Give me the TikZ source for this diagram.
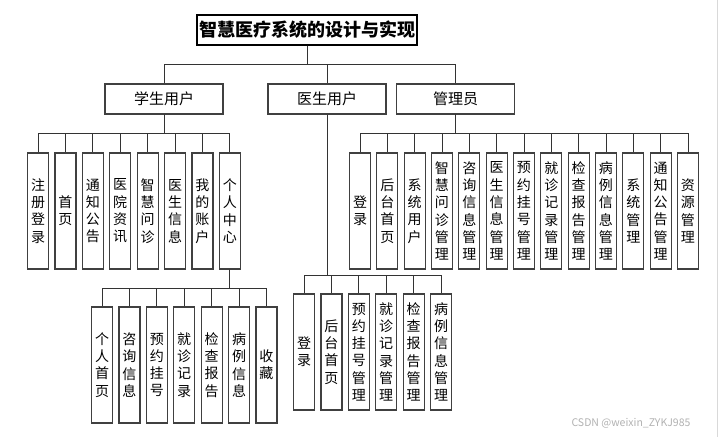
\documentclass[tikz,border=0pt]{standalone}
\usepackage{fontspec}
\newfontfamily\cjk{Noto Sans CJK SC}
\begin{document}
\begin{tikzpicture}[x=1pt,y=-1pt,
 leaf/.style={draw=black!75, line width=1.2pt, fill=white, minimum width=21pt, minimum height=116pt, inner sep=0pt, align=center, font=\fontsize{14}{17.3}\selectfont\cjk},
 lvl/.style={draw=black!75, line width=1.2pt, fill=white, minimum width=118pt, minimum height=30pt, inner sep=0pt, font=\fontsize{15}{18}\selectfont\cjk},
 conn/.style={draw=black!80, line width=0.9pt}]
\useasboundingbox (0,0) rectangle (720,437);
\fill[white] (0,0) rectangle (720,437);
\draw[black!15, line width=1pt] (717,0) -- (717,437);
% title
\node[draw=black, line width=1.4pt, fill=white, minimum width=220pt, minimum height=30pt, inner sep=0pt, font=\fontsize{18}{20}\selectfont\cjk\bfseries] (title) at (307,30) {智慧医疗系统的设计与实现};
% level 1
\node[lvl] (stu) at (164,99) {学生用户};
\node[lvl] (doc) at (327,99) {医生用户};
\node[lvl] (adm) at (455.5,99) {管理员};
\foreach \n in {stu,doc,adm} \draw[conn] (title.south) -- ++(0,19) -| (\n.north);
% student children
\foreach \t [count=\i from 0] in {{注\\册\\登\\录},{首\\页},{通\\知\\公\\告},{医\\院\\资\\讯},{智\\慧\\问\\诊},{医\\生\\信\\息},{我\\的\\账\\户},{个\\人\\中\\心}}
 \node[leaf] (s\i) at ({38+27.4*\i},211) {\t};
\foreach \i in {0,...,7} \draw[conn] (stu.south) -- ++(0,19) -| (s\i.north);
% personal centre children
\foreach \t [count=\i from 0] in {{个\\人\\首\\页},{咨\\询\\信\\息},{预\\约\\挂\\号},{就\\诊\\记\\录},{检\\查\\报\\告},{病\\例\\信\\息},{收\\藏}}
 \node[leaf] (p\i) at ({102+27.4*\i},365) {\t};
\foreach \i in {0,...,6} \draw[conn] (s7.south) -- ++(0,19) -| (p\i.north);
% doctor children
\foreach \t [count=\i from 0] in {{登\\录},{后\\台\\首\\页},{预\\约\\挂\\号\\管\\理},{就\\诊\\记\\录\\管\\理},{检\\查\\报\\告\\管\\理},{病\\例\\信\\息\\管\\理}}
 \node[leaf] (d\i) at ({304+27.4*\i},352) {\t};
\foreach \i in {0,...,5} \draw[conn] (doc.south) -- ++(0,161) -| (d\i.north);
% admin children
\foreach \t [count=\i from 0] in {{登\\录},{后\\台\\首\\页},{系\\统\\用\\户},{智\\慧\\问\\诊\\管\\理},{咨\\询\\信\\息\\管\\理},{医\\生\\信\\息\\管\\理},{预\\约\\挂\\号\\管\\理},{就\\诊\\记\\录\\管\\理},{检\\查\\报\\告\\管\\理},{病\\例\\信\\息\\管\\理},{系\\统\\管\\理},{通\\知\\公\\告\\管\\理},{资\\源\\管\\理}}
 \node[leaf] (a\i) at ({360+27.33*\i},211) {\t};
\foreach \i in {0,...,12} \draw[conn] (adm.south) -- ++(0,19) -| (a\i.north);
% watermark
\node[text=black!30, font=\fontsize{10.5}{12}\selectfont\cjk, inner sep=0pt] (wm) at (631,423) {CSDN @weixin\_ZYKJ985};
\end{tikzpicture}
\end{document}
